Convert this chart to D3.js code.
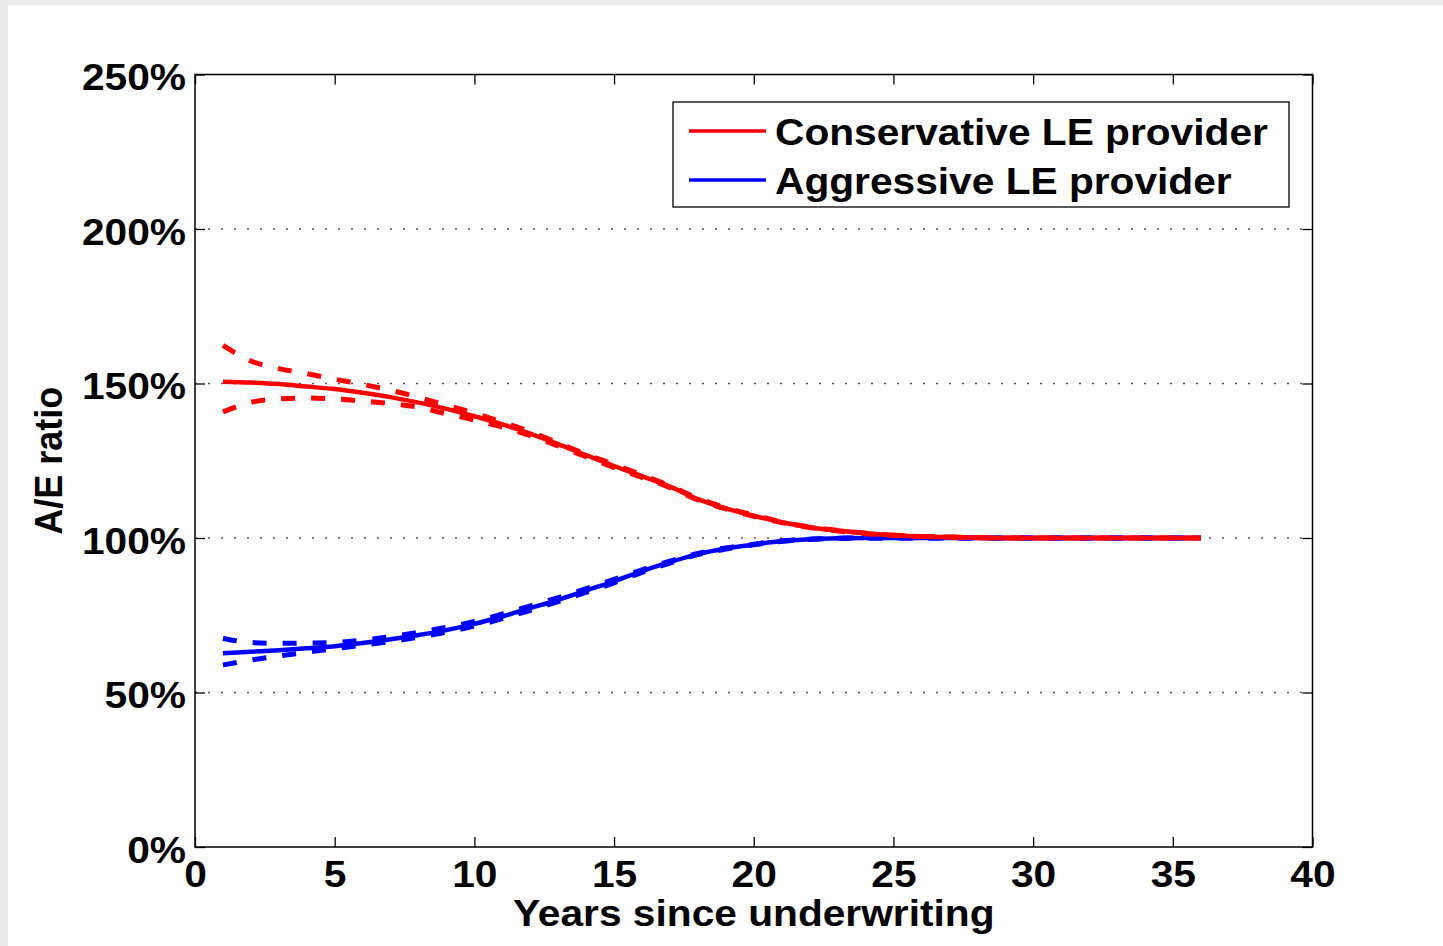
<!DOCTYPE html>
<html>
<head>
<meta charset="utf-8">
<script src="https://cdn.jsdelivr.net/npm/d3@7"></script>
<style>
  body { margin: 0; background: #ebebeb; }
  text { font-family: "Liberation Sans", Arial, sans-serif; font-weight: bold; fill: #000; }
</style>
</head>
<body>
<script>
// values (A/E ratio in %)
const years = [1, 2, 3, 4, 5, 6, 7, 8, 9, 10, 11, 12, 13, 14, 15, 16, 17, 18,
               19, 20, 21, 22, 23, 24, 25, 26, 27, 28, 29, 30, 31, 32, 33, 34, 35, 36];

const consMid  = [150.6, 150.3, 149.8, 149.0, 148.2, 147.0, 145.6, 143.8, 141.8, 139.4,
                  136.8, 133.8, 130.4, 126.8, 123.3, 120.0, 116.6, 112.6, 109.6, 107.2,
                  105.1, 103.5, 102.4, 101.5, 100.9, 100.5, 100.3, 100.1, 100.0,
                  100, 100, 100, 100, 100, 100, 100];
const consHigh = [162.3, 157.3, 154.8, 153.2, 151.4, 149.7, 147.8, 145.5, 143.0, 140.4,
                  137.5, 134.4, 130.8, 127.1, 123.8, 120.4, 116.9, 112.9, 109.8, 107.4,
                  105.2, 103.6, 102.5, 101.6, 100.9, 100.5, 100.3, 100.1, 100.0,
                  100, 100, 100, 100, 100, 100, 100];
const consLow  = [140.8, 143.9, 145.0, 145.3, 145.0, 144.3, 143.5, 142.3, 140.2, 138.2,
                  135.9, 133.1, 129.8, 126.3, 122.8, 119.6, 116.3, 112.3, 109.4, 107.0,
                  105.0, 103.4, 102.3, 101.4, 100.9, 100.5, 100.3, 100.1, 100.0,
                  100, 100, 100, 100, 100, 100, 100];

const aggrMid  = [62.7, 63.2, 63.7, 64.3, 65.0, 66.0, 67.2, 68.6, 70.2, 72.2,
                  74.6, 77.3, 80.0, 83.0, 86.0, 89.3, 92.2, 94.8, 96.6, 97.9,
                  99.0, 99.6, 99.9, 100, 100, 100, 100, 100, 100, 100, 100, 100, 100, 100, 100, 100];
const aggrHigh = [67.5, 66.2, 65.9, 66.0, 66.2, 67.0, 68.1, 69.5, 71.1, 73.0,
                  75.4, 78.0, 80.7, 83.6, 86.6, 89.7, 92.5, 95.0, 96.8, 98.0,
                  99.1, 99.6, 99.9, 100, 100, 100, 100, 100, 100, 100, 100, 100, 100, 100, 100, 100];
const aggrLow  = [58.9, 60.5, 61.8, 63.0, 64.2, 65.3, 66.5, 67.9, 69.5, 71.5,
                  73.9, 76.6, 79.4, 82.4, 85.5, 88.9, 91.9, 94.6, 96.4, 97.8,
                  98.9, 99.6, 99.9, 100, 100, 100, 100, 100, 100, 100, 100, 100, 100, 100, 100, 100];

const xTicks = [0, 5, 10, 15, 20, 25, 30, 35, 40];
const yTicks = [0, 50, 100, 150, 200, 250];
const gridValues = [50, 100, 150, 200];
const legendLabels = ['Conservative LE provider', 'Aggressive LE provider'];
const legendColors = ['#ff0000', '#0000ff'];

// layout
const W = 1443, H = 946;
const plot = { left: 195, right: 1312.5, top: 74.5, bottom: 847 };
const FONT = 37, STRETCH = 1.1;

const svg = d3.select('body').append('svg')
    .attr('width', W)
    .attr('height', H);

svg.append('rect')
    .attr('x', 8).attr('y', 5)
    .attr('width', W - 8).attr('height', H - 5)
    .attr('fill', '#fff');

const x = d3.scaleLinear().domain([0, 40]).range([plot.left, plot.right]);
const y = d3.scaleLinear().domain([0, 250]).range([plot.bottom, plot.top]);

// dotted grid
svg.append('g').selectAll('line')
    .data(gridValues)
    .join('line')
    .attr('x1', plot.left).attr('x2', plot.right)
    .attr('y1', d => y(d)).attr('y2', d => y(d))
    .attr('stroke', '#555')
    .attr('stroke-width', 1.3)
    .attr('stroke-dasharray', '2,11');

// axes (ticks point inward on all four sides)
const styleAxis = g => {
    g.select('.domain').remove();
    g.selectAll('.tick line').attr('stroke', '#000').attr('stroke-width', 1.3);
};

svg.append('g')
    .attr('transform', `translate(0,${plot.bottom})`)
    .call(d3.axisBottom(x).tickValues(xTicks).tickSize(-10).tickFormat(d3.format('d')))
    .call(styleAxis)
    .call(g => g.selectAll('.tick text')
        .attr('y', 40).attr('dy', null)
        .attr('transform', `scale(${STRETCH},1)`)
        .style('font-size', FONT + 'px'));

svg.append('g')
    .attr('transform', `translate(0,${plot.top})`)
    .call(d3.axisTop(x).tickValues(xTicks).tickSize(-10).tickFormat(''))
    .call(styleAxis);

svg.append('g')
    .attr('transform', `translate(${plot.left},0)`)
    .call(d3.axisLeft(y).tickValues(yTicks).tickSize(-10).tickFormat(d => d + '%'))
    .call(styleAxis)
    .call(g => g.selectAll('.tick text')
        .attr('x', -9 / STRETCH).attr('y', 15).attr('dy', null)
        .attr('transform', `scale(${STRETCH},1)`)
        .style('font-size', FONT + 'px'));

svg.append('g')
    .attr('transform', `translate(${plot.right},0)`)
    .call(d3.axisRight(y).tickValues(yTicks).tickSize(-10).tickFormat(''))
    .call(styleAxis);

svg.append('rect')
    .attr('x', plot.left).attr('y', plot.top)
    .attr('width', plot.right - plot.left).attr('height', plot.bottom - plot.top)
    .attr('fill', 'none')
    .attr('stroke', '#000')
    .attr('stroke-width', 1.5);

// curves
const line = d3.line()
    .x(d => x(d[0]))
    .y(d => y(d[1]))
    .curve(d3.curveMonotoneX);

const series = [
    { values: aggrHigh, color: '#0000ff', dashed: true },
    { values: aggrLow,  color: '#0000ff', dashed: true },
    { values: aggrMid,  color: '#0000ff', dashed: false },
    { values: consHigh, color: '#ff0000', dashed: true },
    { values: consLow,  color: '#ff0000', dashed: true },
    { values: consMid,  color: '#ff0000', dashed: false }
];

svg.append('g').selectAll('path')
    .data(series)
    .join('path')
    .attr('d', s => line(years.map((yr, i) => [yr, s.values[i]])))
    .attr('fill', 'none')
    .attr('stroke', s => s.color)
    .attr('stroke-width', s => s.dashed ? 5 : 4.5)
    .attr('stroke-dasharray', s => s.dashed ? '14,16' : null);

// axis labels
svg.append('text')
    .attr('transform', `translate(${(plot.left + plot.right) / 2},926) scale(${STRETCH},1)`)
    .attr('text-anchor', 'middle')
    .style('font-size', FONT + 'px')
    .text('Years since underwriting');

svg.append('text')
    .attr('transform', `translate(62,${(plot.top + plot.bottom) / 2}) scale(${STRETCH},1) rotate(-90)`)
    .attr('text-anchor', 'middle')
    .style('font-size', '36px')
    .text('A/E ratio');

// legend
const legend = svg.append('g');
legend.append('rect')
    .attr('x', 673).attr('y', 102)
    .attr('width', 616).attr('height', 105)
    .attr('fill', '#fff')
    .attr('stroke', '#000')
    .attr('stroke-width', 1.3);

const items = legend.selectAll('g.item')
    .data(legendLabels)
    .join('g')
    .attr('class', 'item')
    .attr('transform', (d, i) => `translate(0,${131 + i * 49})`);

items.append('line')
    .attr('x1', 689).attr('x2', 766)
    .attr('stroke', (d, i) => legendColors[i])
    .attr('stroke-width', 3.5);

items.append('text')
    .attr('transform', `translate(775,14) scale(${STRETCH},1)`)
    .style('font-size', FONT + 'px')
    .text(d => d);
</script>
</body>
</html>
